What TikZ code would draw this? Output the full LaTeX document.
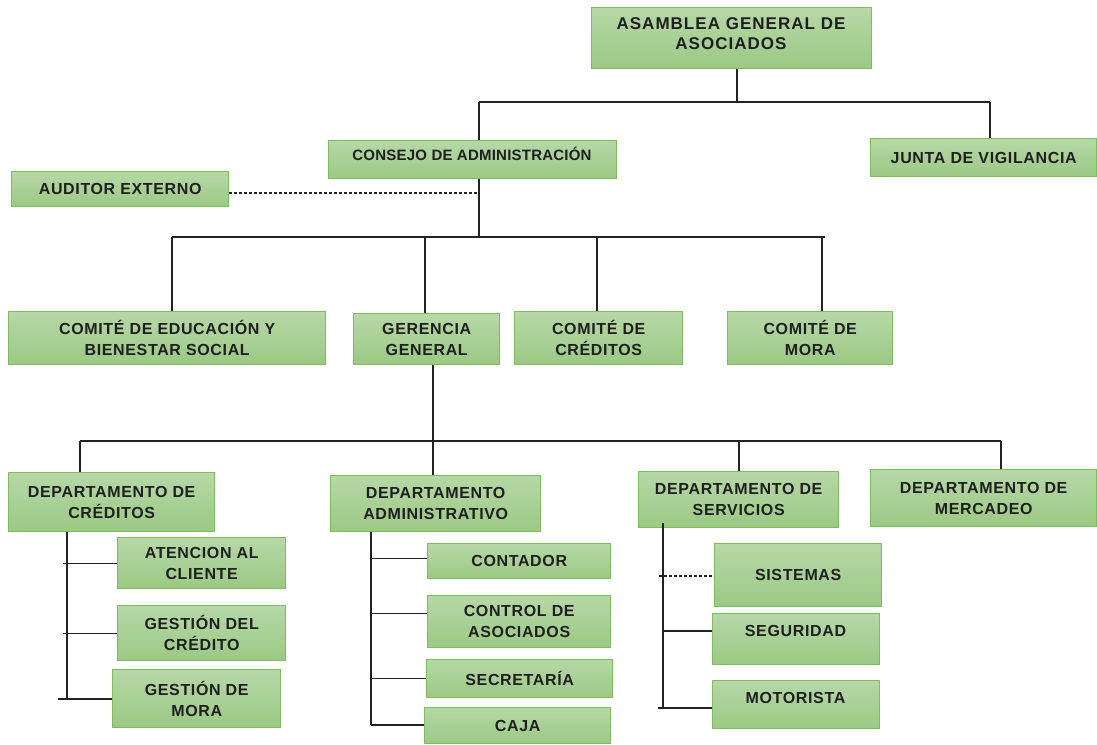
\documentclass[tikz,border=0pt]{standalone}
\usepackage{fontspec}
\setmainfont{Liberation Sans}
\newfontfamily\boxfont[LetterSpace=4]{Liberation Sans}
\newfontfamily\consfont[LetterSpace=1.5]{Liberation Sans}
\newfontfamily\asamfont[LetterSpace=6]{Liberation Sans}
\definecolor{gtop}{HTML}{B6D8A7}
\definecolor{gbot}{HTML}{9BC984}
\definecolor{gbrd}{HTML}{7EBC5D}
\definecolor{ln}{HTML}{222222}
\begin{document}
\begin{tikzpicture}[x=1pt,y=-1pt,
 box/.style={draw=gbrd, line width=1.4pt, top color=gtop, bottom color=gbot, anchor=north west, inner sep=0pt, align=center, font=\boxfont\fontsize{16}{21}\selectfont\bfseries, text=black!88},
 lbl/.style={inner sep=0pt, align=center, font=\boxfont\fontsize{16}{21}\selectfont\bfseries, text=black!88},
 conn/.style={draw=ln, line width=1.25pt},
 dotconn/.style={conn, line width=1.1pt, dash pattern=on 3pt off 2pt}]
\useasboundingbox (0,0) rectangle (1097,744);
% boxes
\node[box, minimum width=280pt, minimum height=61pt] (asam) at (591,7) {};
\node[lbl, font=\asamfont\fontsize{17}{20}\selectfont\bfseries] (asamt) at (731,34) {ASAMBLEA GENERAL DE\\ASOCIADOS};
\node[box, minimum width=288pt, minimum height=38pt] (cons) at (328,140) {};
\node[lbl, font=\consfont\fontsize{15}{20}\selectfont\bfseries] (const) at (472,154) {CONSEJO DE ADMINISTRACIÓN};
\node[box, minimum width=226pt, minimum height=38pt] (junta) at (870,138) {JUNTA DE VIGILANCIA};
\node[box, minimum width=217pt, minimum height=35pt] (aud) at (11,171) {AUDITOR EXTERNO};
\node[box, minimum width=317pt, minimum height=53pt] (edu) at (8,311) {COMITÉ DE EDUCACIÓN Y\\BIENESTAR SOCIAL};
\node[box, minimum width=146pt, minimum height=51pt] (ger) at (353,313) {GERENCIA\\GENERAL};
\node[box, minimum width=168pt, minimum height=53pt] (cred) at (514,311) {COMITÉ DE\\CRÉDITOS};
\node[box, minimum width=165pt, minimum height=53pt] (mora) at (727,311) {COMITÉ DE\\MORA};
\node[box, minimum width=206pt, minimum height=59pt] (dcred) at (8,472) {DEPARTAMENTO DE\\CRÉDITOS};
\node[box, minimum width=210pt, minimum height=56pt] (dadm) at (330,475) {DEPARTAMENTO\\ADMINISTRATIVO};
\node[box, minimum width=200pt, minimum height=56pt] (dserv) at (638,471) {DEPARTAMENTO DE\\SERVICIOS};
\node[box, minimum width=226pt, minimum height=57pt] (dmerc) at (870,469) {DEPARTAMENTO DE\\MERCADEO};
\node[box, minimum width=168pt, minimum height=51pt] (aten) at (117,537) {ATENCION AL\\CLIENTE};
\node[box, minimum width=168pt, minimum height=55pt] (gdc) at (117,605) {GESTIÓN DEL\\CRÉDITO};
\node[box, minimum width=168pt, minimum height=58pt] (gdm) at (112,669) {GESTIÓN DE\\MORA};
\node[box, minimum width=183pt, minimum height=35pt] (cont) at (427,543) {CONTADOR};
\node[box, minimum width=183pt, minimum height=52pt] (ctrl) at (427,595) {CONTROL DE\\ASOCIADOS};
\node[box, minimum width=186pt, minimum height=38pt] (secr) at (426,659) {SECRETARÍA};
\node[box, minimum width=186pt, minimum height=36pt] (caja) at (424,707) {CAJA};
\node[box, minimum width=167pt, minimum height=63pt] (sist) at (714,543) {SISTEMAS};
\node[box, minimum width=167pt, minimum height=51pt] (seg) at (712,613) {};
\node[lbl] (segt) at (795.5,631) {SEGURIDAD};
\node[box, minimum width=167pt, minimum height=48pt] (mot) at (712,680) {};
\node[lbl] (mott) at (795.5,698) {MOTORISTA};
% top level connectors
\coordinate (t0) at (737,102);
\coordinate (tL) at (479,102);
\coordinate (tR) at (990,102);
\draw[conn] (asam.south -| t0) -- (t0);
\draw[conn] (tL) -- (tR);
\draw[conn] (tL) -- (tL |- cons.north);
\draw[conn] (tR) -- (tR |- junta.north);
% consejo
\coordinate (c0) at (479,237);
\coordinate (cL) at (172,237);
\coordinate (cR) at (825,237);
\coordinate (c2) at (425,237);
\coordinate (c3) at (597,237);
\coordinate (c4) at (822,237);
\coordinate (d0) at (479,193);
\draw[conn] (cons.south -| c0) -- (c0);
\draw[dotconn] (aud.east |- d0) -- (d0);
\draw[conn] (cL) -- (cR);
\draw[conn] (cL) -- (cL |- edu.north);
\draw[conn] (c2) -- (c2 |- ger.north);
\draw[conn] (c3) -- (c3 |- cred.north);
\draw[conn] (c4) -- (c4 |- mora.north);
% gerencia
\coordinate (g0) at (433,441);
\coordinate (gL) at (80,441);
\coordinate (gR) at (1001,441);
\coordinate (g3) at (739,441);
\draw[conn] (ger.south -| g0) -- (g0);
\draw[conn] (gL) -- (gR);
\draw[conn] (gL) -- (gL |- dcred.north);
\draw[conn] (g0) -- (g0 |- dadm.north);
\draw[conn] (g3) -- (g3 |- dserv.north);
\draw[conn] (gR) -- (gR |- dmerc.north);
% departamento de creditos
\coordinate (k0) at (67,699);
\coordinate (kx) at (63,699);
\coordinate (kb) at (58,699);
\draw[conn] (dcred.south -| k0) -- (k0);
\draw[conn] (kx |- aten.west) -- (aten.west);
\draw[conn] (kx |- gdc.west) -- (gdc.west);
\draw[conn] (kb) -- (kb -| gdm.west);
% departamento administrativo
\coordinate (a0) at (371,725);
\coordinate (contw) at ([yshift=2.5pt]cont.west);
\coordinate (ctrlw) at ([yshift=8pt]ctrl.west);
\draw[conn] (dadm.south -| a0) -- (a0);
\draw[conn] (a0 |- contw) -- (contw);
\draw[conn] (a0 |- ctrlw) -- (ctrlw);
\draw[conn] (a0 |- secr.west) -- (secr.west);
\draw[conn] (a0) -- (a0 -| caja.west);
% departamento de servicios
\coordinate (s0) at (663,708);
\coordinate (sb) at (658,708);
\coordinate (sx) at (659,576);
\coordinate (st) at ([yshift=5pt]dserv.south);
\draw[conn] (st -| s0) -- (s0);
\draw[dotconn] (sx) -- (sx -| sist.west);
\draw[conn] (s0 |- segt) -- (seg.west |- segt);
\draw[conn] (sb) -- (sb -| mot.west);
\end{tikzpicture}
\end{document}
